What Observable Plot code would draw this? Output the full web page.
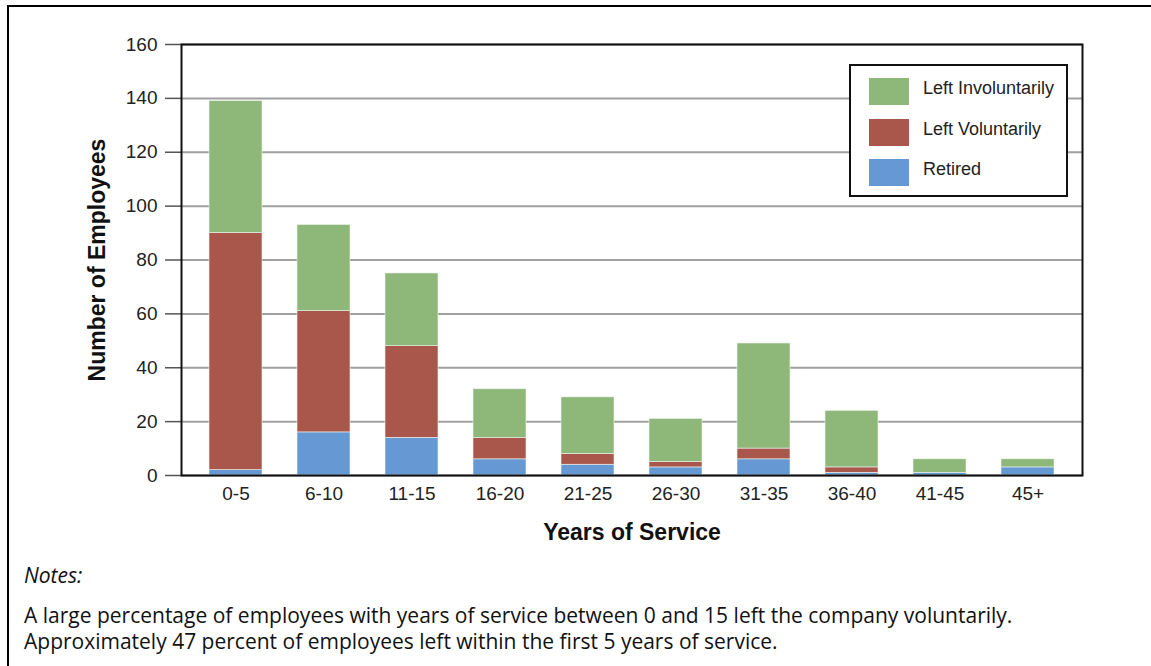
<!DOCTYPE html>
<html><head><meta charset="utf-8">
<script src="https://cdn.jsdelivr.net/npm/d3@7"></script>
<script src="https://cdn.jsdelivr.net/npm/@observablehq/plot@0.6"></script>
<style>
body{margin:0;background:#fff;width:1151px;height:666px;overflow:hidden;position:relative;font-family:"Liberation Sans",Arial,sans-serif;}
#border{position:absolute;left:7px;top:5px;width:1200px;height:700px;border-top:2px solid #000;border-left:2px solid #000;}
#chart{position:absolute;left:0;top:0;}
#legend{position:absolute;left:849px;top:64px;width:215px;height:129px;border:2px solid #111;background:#fff;}
.row{position:absolute;left:18px;height:27px;font-size:18px;color:#222;}
.sw{position:absolute;left:0;top:0;width:40px;height:27px;}
.row span{position:absolute;left:54px;top:0px;white-space:nowrap;}
#notes{position:absolute;left:24px;top:562px;font-family:"Open Sans",sans-serif;font-size:21px;color:#111;}
#notes .h{font-style:italic;margin-bottom:14px;line-height:26px;}
#notes .l{line-height:26px;}
</style></head>
<body>
<div id="border"></div>
<div id="chart"></div>
<div id="legend"></div>
<div id="notes"></div>
<script>
const categories = ["0-5","6-10","11-15","16-20","21-25","26-30","31-35","36-40","41-45","45+"];
const seriesNames = ["Retired","Left Voluntarily","Left Involuntarily"];
const retired = [2,16,14,6,4,3,6,1,1,3];
const leftVoluntarily = [88,45,34,8,4,2,4,2,0,0];
const leftInvoluntarily = [49,32,27,18,21,16,39,21,5,3];
const colors = ["#6699d3","#a9574b","#8db87a"];
const yTicks = [0,20,40,60,80,100,120,140,160];
const notesTitle = "Notes:";
const notesLines = [
  "A large percentage of employees with years of service between 0 and 15 left the company voluntarily.",
  "Approximately 47 percent of employees left within the first 5 years of service."
];

const seriesValues = [retired, leftVoluntarily, leftInvoluntarily];
const data = [];
seriesNames.forEach((s, si) => categories.forEach((c, ci) => data.push({cat: c, series: s, value: seriesValues[si][ci]})));

const chart = Plot.plot({
  width: 1151,
  height: 550,
  marginLeft: 181,
  marginRight: 69,
  marginTop: 44,
  marginBottom: 75,
  style: {fontFamily: "'Liberation Sans', Arial, sans-serif", fontSize: "19px", color: "#222", background: "transparent"},
  x: {domain: categories, paddingInner: 0.4, paddingOuter: 0.3, label: null},
  y: {domain: [0, 160], label: null},
  color: {domain: seriesNames, range: colors},
  marks: [
    Plot.gridY(yTicks, {stroke: "#a0a0a0", strokeOpacity: 1, strokeWidth: 2}),
    Plot.barY(data, {x: "cat", y: "value", fill: "series", order: seriesNames, stroke: "#eef3ee", strokeWidth: 0.6}),
    Plot.axisY(yTicks, {tickSize: 16, tickPadding: 8, stroke: "#555", strokeWidth: 1.5, fontSize: 19, label: null}),
    Plot.axisX({tickSize: 0, tickPadding: 11, fontSize: 19, label: null}),
    Plot.frame({stroke: "#111", strokeWidth: 2}),
    Plot.text(["Years of Service"], {frameAnchor: "bottom", dy: 64, fontSize: 23, fontWeight: "bold", fill: "#111"}),
    Plot.text(["Number of Employees"], {frameAnchor: "left", textAnchor: "middle", dx: -84, rotate: -90, fontSize: 23, fontWeight: "bold", fill: "#111"})
  ]
});
document.getElementById("chart").appendChild(chart);

const legend = document.getElementById("legend");
const legendOrder = [2,1,0];
legendOrder.forEach((si, i) => {
  const r = document.createElement("div");
  r.className = "row";
  r.style.top = (12 + i*40.5) + "px";
  r.innerHTML = `<div class="sw" style="background:${colors[si]}"></div><span>${seriesNames[si]}</span>`;
  legend.appendChild(r);
});

const notes = document.getElementById("notes");
notes.innerHTML = `<div class="h">${notesTitle}</div>` + notesLines.map(l => `<div class="l">${l}</div>`).join("");
</script>
</body></html>
